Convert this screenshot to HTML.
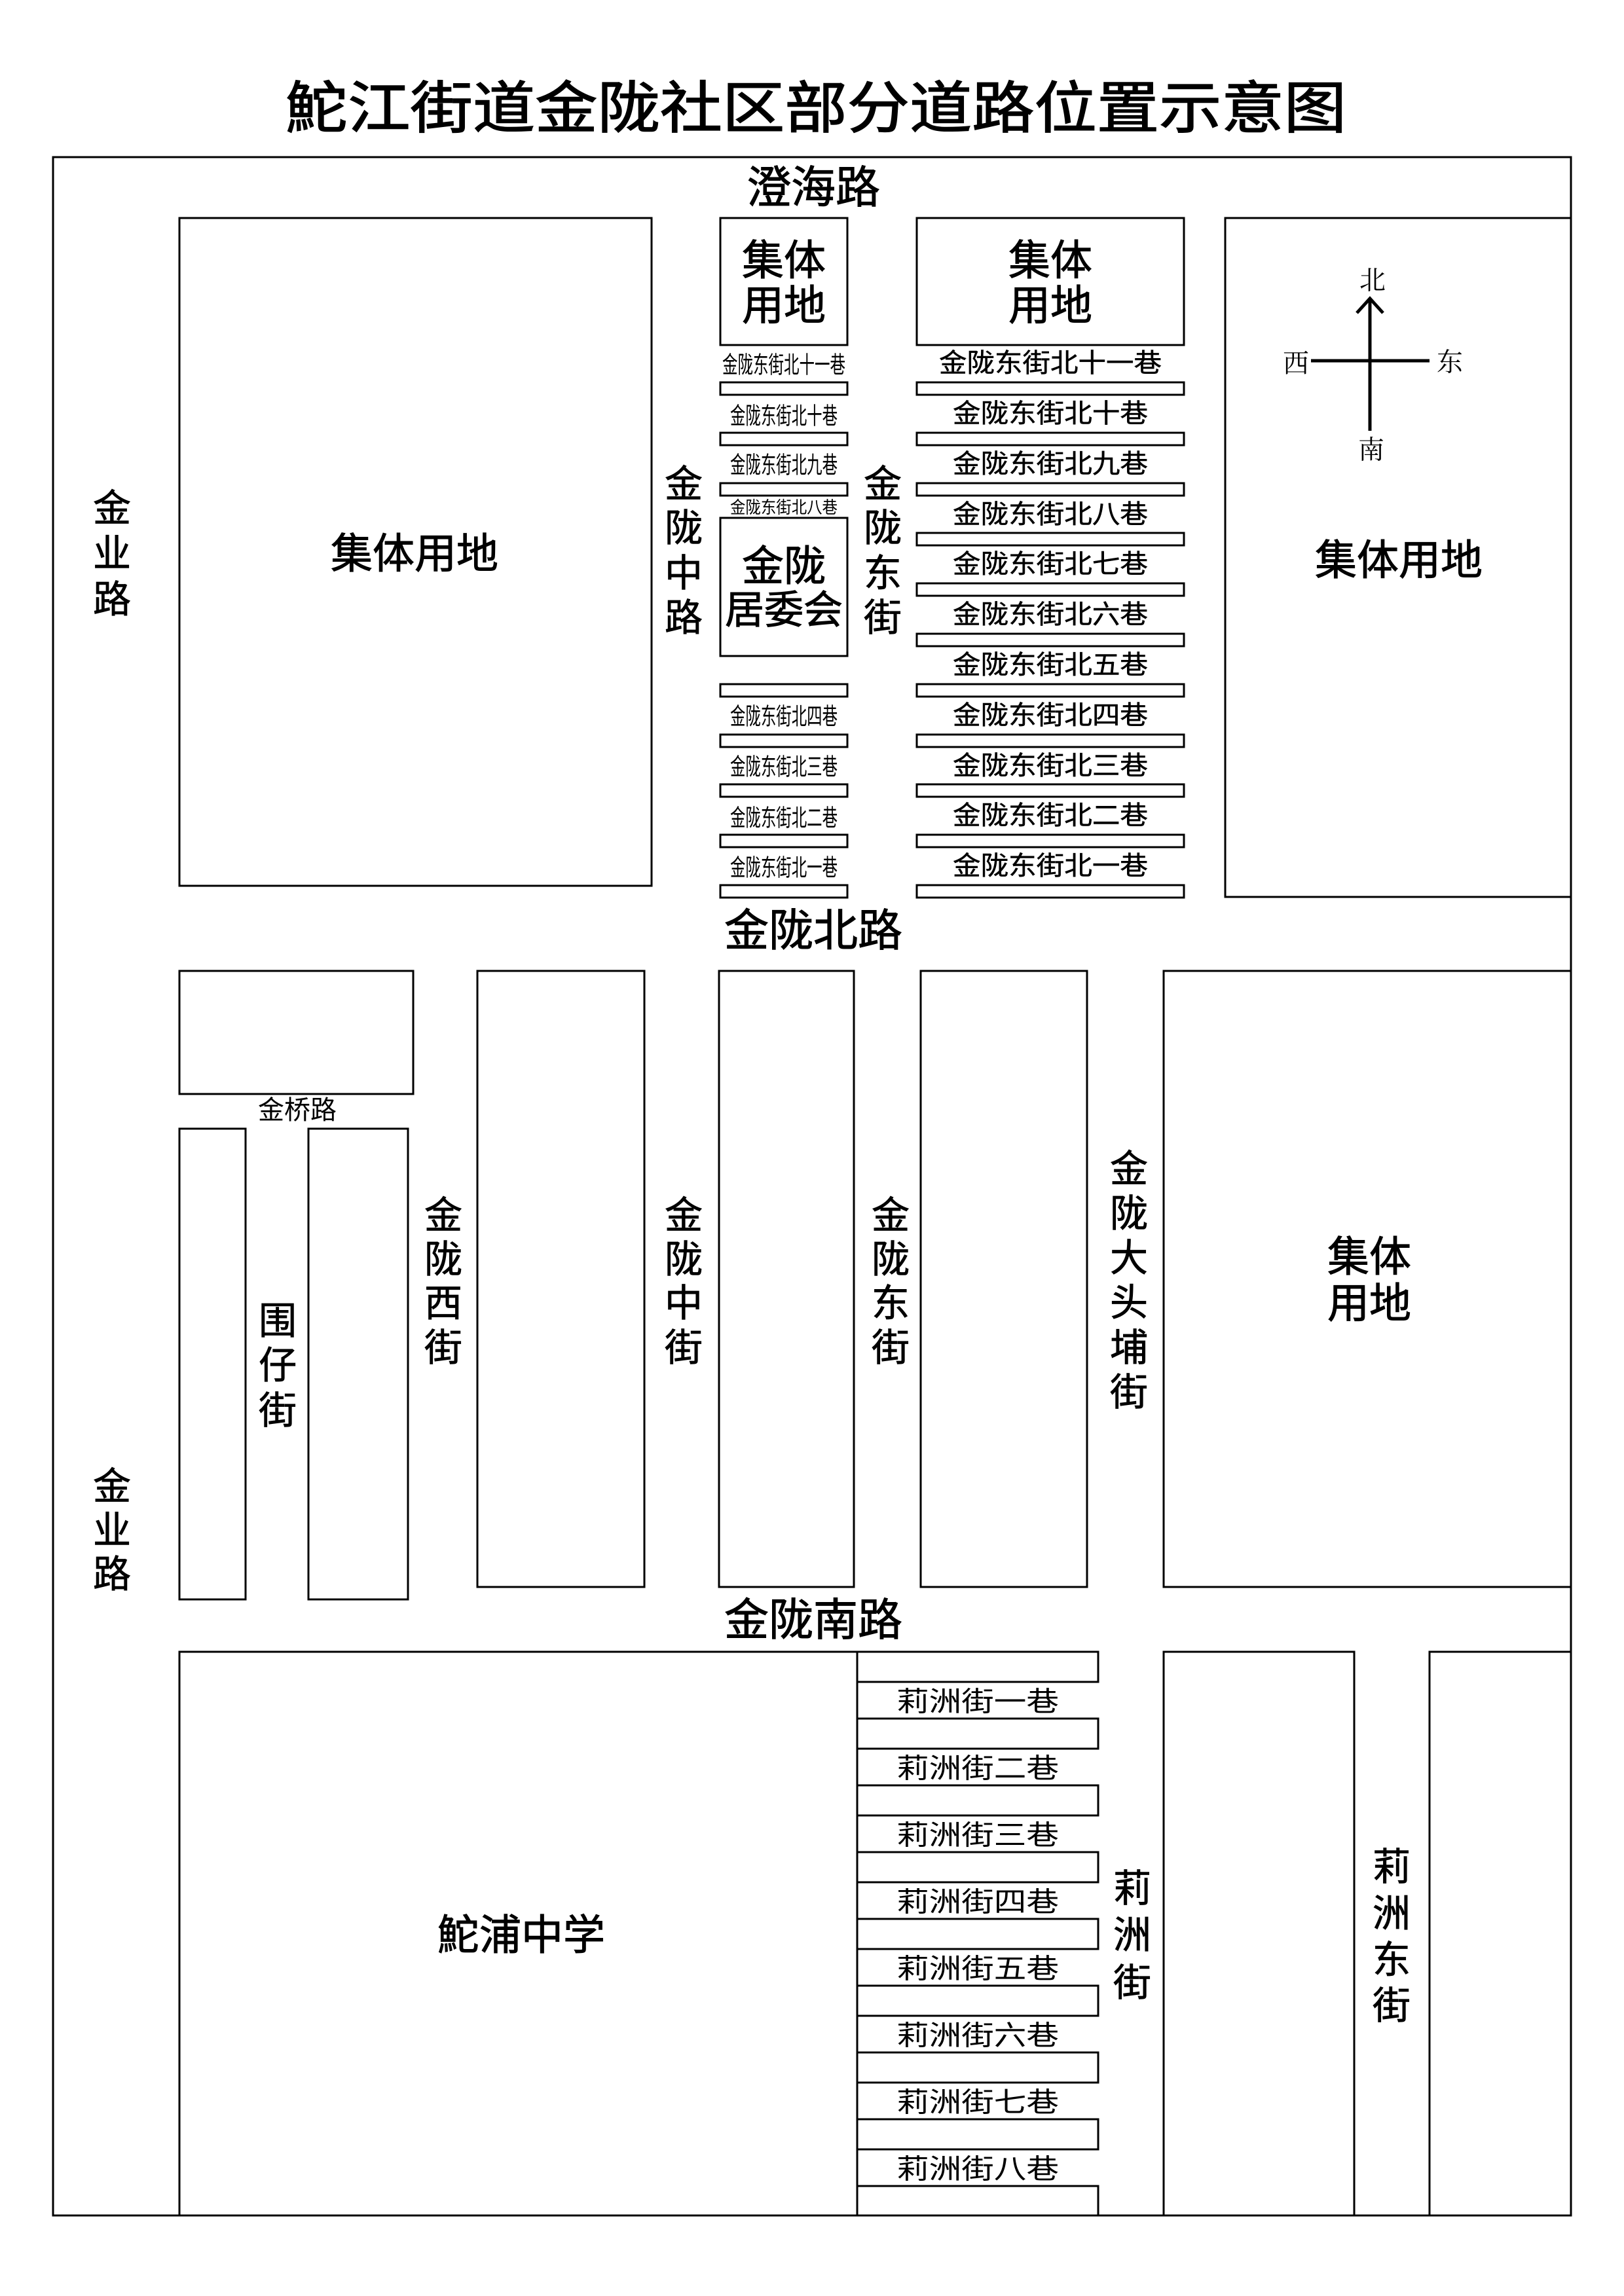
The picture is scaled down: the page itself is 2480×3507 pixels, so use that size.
<!DOCTYPE html>
<html><head><meta charset="utf-8"><style>html,body{margin:0;padding:0;background:#fff}svg{display:block}</style></head>
<body>
<svg width="2480" height="3507" viewBox="0 0 2480 3507" xmlns="http://www.w3.org/2000/svg" font-family="'Liberation Sans','Noto Sans CJK SC',sans-serif">
<rect width="2480" height="3507" fill="#fff"/>
<g fill="none" stroke="#000" stroke-width="3">
<rect x="81" y="240" width="2318" height="3144"/>
<rect x="274" y="333" width="721" height="1020"/>
<rect x="1100" y="333" width="194" height="194"/>
<rect x="1400" y="333" width="408" height="194"/>
<rect x="1871" y="333" width="528" height="1037"/>
<rect x="1100" y="791" width="194" height="211"/>
<rect x="274" y="1483" width="357" height="188"/>
<rect x="274" y="1724" width="101" height="719"/>
<rect x="471" y="1724" width="152" height="719"/>
<rect x="729" y="1483" width="255" height="941"/>
<rect x="1098" y="1483" width="206" height="941"/>
<rect x="1406" y="1483" width="254" height="941"/>
<rect x="1777" y="1483" width="622" height="941"/>
<rect x="274" y="2523" width="1035" height="861"/>
<rect x="1777" y="2523" width="291" height="861"/>
<rect x="2183" y="2523" width="216" height="861"/>
</g>
<g fill="none" stroke="#000" stroke-width="3">
<rect x="1400" y="584" width="408" height="19"/>
<rect x="1400" y="661" width="408" height="19"/>
<rect x="1400" y="738" width="408" height="19"/>
<rect x="1400" y="814" width="408" height="19"/>
<rect x="1400" y="891" width="408" height="19"/>
<rect x="1400" y="968" width="408" height="19"/>
<rect x="1400" y="1045" width="408" height="19"/>
<rect x="1400" y="1122" width="408" height="19"/>
<rect x="1400" y="1198" width="408" height="19"/>
<rect x="1400" y="1275" width="408" height="19"/>
<rect x="1400" y="1352" width="408" height="19"/>
<rect x="1100" y="584" width="194" height="19"/>
<rect x="1100" y="661" width="194" height="19"/>
<rect x="1100" y="738" width="194" height="19"/>
<rect x="1100" y="1045" width="194" height="19"/>
<rect x="1100" y="1122" width="194" height="19"/>
<rect x="1100" y="1198" width="194" height="19"/>
<rect x="1100" y="1275" width="194" height="19"/>
<rect x="1100" y="1352" width="194" height="19"/>
<rect x="1309" y="2523" width="368" height="46"/>
<rect x="1309" y="2625" width="368" height="46"/>
<rect x="1309" y="2727" width="368" height="46"/>
<rect x="1309" y="2829" width="368" height="46"/>
<rect x="1309" y="2931" width="368" height="46"/>
<rect x="1309" y="3033" width="368" height="46"/>
<rect x="1309" y="3135" width="368" height="46"/>
<rect x="1309" y="3237" width="368" height="46"/>
<rect x="1309" y="3339" width="368" height="45"/>
</g>
<g stroke="#000" stroke-width="5" fill="none">
<line x1="2092" y1="458" x2="2092" y2="658"/>
<line x1="2002" y1="551" x2="2183" y2="551"/>
<polyline points="2072,478 2092,456 2112,478"/>
</g>
<g font-family="'Liberation Serif','Noto Serif CJK SC',serif" font-size="40" text-anchor="middle" dominant-baseline="central">
<text x="2096" y="428">北</text><text x="1979" y="555">西</text><text x="2214" y="553">东</text><text x="2094" y="687">南</text>
</g>
<g text-anchor="middle" dominant-baseline="central" fill="#000">
<text x="1246" y="166" font-size="86" stroke="#000" stroke-width="1.5" textLength="1620" lengthAdjust="spacingAndGlyphs">鮀江街道金陇社区部分道路位置示意图</text>
<g font-size="68" stroke="#000" stroke-width="1">
<text x="1242" y="287">澄海路</text>
<text x="1242" y="1422">金陇北路</text>
<text x="1242" y="2475">金陇南路</text>
</g>
<g font-size="64" stroke="#000" stroke-width="1">
<text x="633" y="846">集体用地</text>
<text x="2136" y="856">集体用地</text>
<text x="1197" y="398">集体</text><text x="1197" y="467">用地</text>
<text x="1604" y="398">集体</text><text x="1604" y="467">用地</text>
<text x="1197" y="865">金陇</text><text x="1197" y="932" font-size="60">居委会</text>
<text x="2091" y="1920">集体</text><text x="2091" y="1991">用地</text>
<text x="796" y="2956">鮀浦中学</text>
</g>
<g font-size="58" stroke="#000" stroke-width="0.8">
<text x="171" y="777">金</text><text x="171" y="846">业</text><text x="171" y="916">路</text>
<text x="171" y="2271">金</text><text x="171" y="2338">业</text><text x="171" y="2405">路</text>
<text x="1044" y="740">金</text><text x="1044" y="807">陇</text><text x="1044" y="876">中</text><text x="1044" y="944">路</text>
<text x="1348" y="740">金</text><text x="1348" y="807">陇</text><text x="1348" y="876">东</text><text x="1348" y="944">街</text>
<text x="424" y="2018">围</text><text x="424" y="2086">仔</text><text x="424" y="2155">街</text>
<text x="677" y="1857">金</text><text x="677" y="1924">陇</text><text x="677" y="1991">西</text><text x="677" y="2059">街</text>
<text x="1044" y="1857">金</text><text x="1044" y="1924">陇</text><text x="1044" y="1991">中</text><text x="1044" y="2059">街</text>
<text x="1360" y="1857">金</text><text x="1360" y="1924">陇</text><text x="1360" y="1991">东</text><text x="1360" y="2059">街</text>
<text x="1724" y="1786">金</text><text x="1724" y="1854">陇</text><text x="1724" y="1922">大</text><text x="1724" y="1990">头</text><text x="1724" y="2059">埔</text><text x="1724" y="2127">街</text>
<text x="1729" y="2885">莉</text><text x="1729" y="2956">洲</text><text x="1729" y="3029">街</text>
<text x="2125" y="2852">莉</text><text x="2125" y="2923">洲</text><text x="2125" y="2994">东</text><text x="2125" y="3064">街</text>
</g>
<text x="454" y="1696" font-size="40">金桥路</text>
<g font-size="40" stroke="#000" stroke-width="0.5">
<text x="1604" y="555" textLength="340" lengthAdjust="spacingAndGlyphs">金陇东街北十一巷</text>
<text x="1604" y="632" textLength="298" lengthAdjust="spacingAndGlyphs">金陇东街北十巷</text>
<text x="1604" y="709" textLength="298" lengthAdjust="spacingAndGlyphs">金陇东街北九巷</text>
<text x="1604" y="786" textLength="298" lengthAdjust="spacingAndGlyphs">金陇东街北八巷</text>
<text x="1604" y="862" textLength="298" lengthAdjust="spacingAndGlyphs">金陇东街北七巷</text>
<text x="1604" y="939" textLength="298" lengthAdjust="spacingAndGlyphs">金陇东街北六巷</text>
<text x="1604" y="1016" textLength="298" lengthAdjust="spacingAndGlyphs">金陇东街北五巷</text>
<text x="1604" y="1093" textLength="298" lengthAdjust="spacingAndGlyphs">金陇东街北四巷</text>
<text x="1604" y="1170" textLength="298" lengthAdjust="spacingAndGlyphs">金陇东街北三巷</text>
<text x="1604" y="1246" textLength="298" lengthAdjust="spacingAndGlyphs">金陇东街北二巷</text>
<text x="1604" y="1323" textLength="298" lengthAdjust="spacingAndGlyphs">金陇东街北一巷</text>
</g>
<g font-size="36">
<text x="1197" y="557" textLength="188" lengthAdjust="spacingAndGlyphs">金陇东街北十一巷</text>
<text x="1197" y="635" textLength="164" lengthAdjust="spacingAndGlyphs">金陇东街北十巷</text>
<text x="1197" y="710" textLength="164" lengthAdjust="spacingAndGlyphs">金陇东街北九巷</text>
<text x="1197" y="775" font-size="26" textLength="164" lengthAdjust="spacingAndGlyphs">金陇东街北八巷</text>
<text x="1197" y="1094" textLength="164" lengthAdjust="spacingAndGlyphs">金陇东街北四巷</text>
<text x="1197" y="1171" textLength="164" lengthAdjust="spacingAndGlyphs">金陇东街北三巷</text>
<text x="1197" y="1249" textLength="164" lengthAdjust="spacingAndGlyphs">金陇东街北二巷</text>
<text x="1197" y="1325" textLength="164" lengthAdjust="spacingAndGlyphs">金陇东街北一巷</text>
</g>
<g font-size="42">
<text x="1493" y="2599" textLength="248" lengthAdjust="spacingAndGlyphs">莉洲街一巷</text>
<text x="1493" y="2701" textLength="248" lengthAdjust="spacingAndGlyphs">莉洲街二巷</text>
<text x="1493" y="2803" textLength="248" lengthAdjust="spacingAndGlyphs">莉洲街三巷</text>
<text x="1493" y="2905" textLength="248" lengthAdjust="spacingAndGlyphs">莉洲街四巷</text>
<text x="1493" y="3007" textLength="248" lengthAdjust="spacingAndGlyphs">莉洲街五巷</text>
<text x="1493" y="3109" textLength="248" lengthAdjust="spacingAndGlyphs">莉洲街六巷</text>
<text x="1493" y="3211" textLength="248" lengthAdjust="spacingAndGlyphs">莉洲街七巷</text>
<text x="1493" y="3313" textLength="248" lengthAdjust="spacingAndGlyphs">莉洲街八巷</text>
</g>
</g>
</svg>
</body></html>
